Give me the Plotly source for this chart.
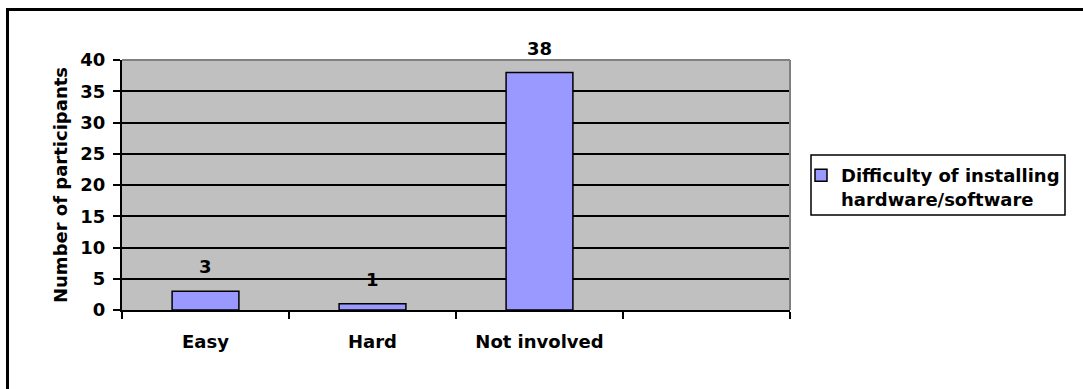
import plotly.graph_objects as go

categories = ["Easy", "Hard", "Not involved", " "]
values = [3, 1, 38]
series_name = "<b>Difficulty of installing<br>hardware/software</b>"
y_ticks = [0, 5, 10, 15, 20, 25, 30, 35, 40]

W, H = 1083, 389
L, R, T, B = 122, 790, 60, 310  # plot area pixels


def px_x(p):
    return (p - L) / (R - L)


def px_y(p):
    return (B - p) / (B - T)


FONT = "'DejaVu Sans', Arial, sans-serif"
FS = 18

fig = go.Figure()
fig.add_trace(go.Bar(
    x=categories[:len(values)],
    y=values,
    name=series_name,
    width=0.4,
    marker=dict(color="#9999FF", line=dict(color="black", width=1.5)),
    showlegend=True,
))

for c, v in zip(categories, values):
    fig.add_annotation(x=c, y=v, text=f"<b>{v}</b>", showarrow=False,
                       yanchor="bottom", yshift=12,
                       font=dict(family=FONT, size=FS, color="black"))

fig.update_layout(
    width=W, height=H, autosize=False,
    margin=dict(l=L, r=W - R, t=T, b=H - B, pad=0),
    paper_bgcolor="white",
    plot_bgcolor="#C0C0C0",
    font=dict(family=FONT, size=FS, color="black"),
    bargap=0.6,
    legend=dict(
        x=px_x(801), y=px_y(157), xanchor="left", yanchor="top",
        bgcolor="rgba(0,0,0,0)", borderwidth=0,
        font=dict(family=FONT, size=FS, color="black"),
        itemwidth=30, valign="top",
    ),
    showlegend=True,
)

fig.update_xaxes(
    type="category",
    categoryorder="array", categoryarray=categories,
    range=[-0.5, len(categories) - 0.5],
    tickvals=categories,
    ticktext=[f"<b>{c}</b>" for c in categories],
    tickson="boundaries",
    ticks="outside", ticklen=7, tickwidth=2, tickcolor="black",
    showgrid=False,
    showline=True, linecolor="black", linewidth=2,
    ticklabelstandoff=14,
    tickfont=dict(family=FONT, size=FS, color="black"),
)

fig.update_yaxes(
    range=[0, 40],
    tickvals=y_ticks,
    ticktext=[f"<b>{t}</b>" for t in y_ticks],
    ticks="outside", ticklen=7, tickwidth=2, tickcolor="black",
    showgrid=True, gridcolor="black", gridwidth=2,
    zeroline=False,
    showline=True, linecolor="black", linewidth=2,
    ticklabelstandoff=4,
    tickfont=dict(family=FONT, size=FS, color="black"),
    title=dict(text="<b>Number of participants</b>", standoff=8,
               font=dict(family=FONT, size=FS, color="black")),
)

# gray top and right edges of plot area
fig.add_shape(type="line", xref="paper", yref="paper", x0=0, x1=1, y0=1, y1=1,
              line=dict(color="#808080", width=2))
fig.add_shape(type="line", xref="paper", yref="paper", x0=1, x1=1, y0=0, y1=1,
              line=dict(color="#808080", width=2))

# legend frame
fig.add_shape(type="rect", xref="paper", yref="paper",
              x0=px_x(811), x1=px_x(1065), y0=px_y(215), y1=px_y(155),
              line=dict(color="black", width=1.5), fillcolor="rgba(0,0,0,0)",
              layer="below")

# outer chart border (extends past right and bottom edges)
fig.add_shape(type="rect", xref="paper", yref="paper",
              x0=px_x(7.5), x1=px_x(1100), y0=px_y(395), y1=px_y(9.5),
              line=dict(color="black", width=3), fillcolor="rgba(0,0,0,0)")

fig.write_html("out.html")
